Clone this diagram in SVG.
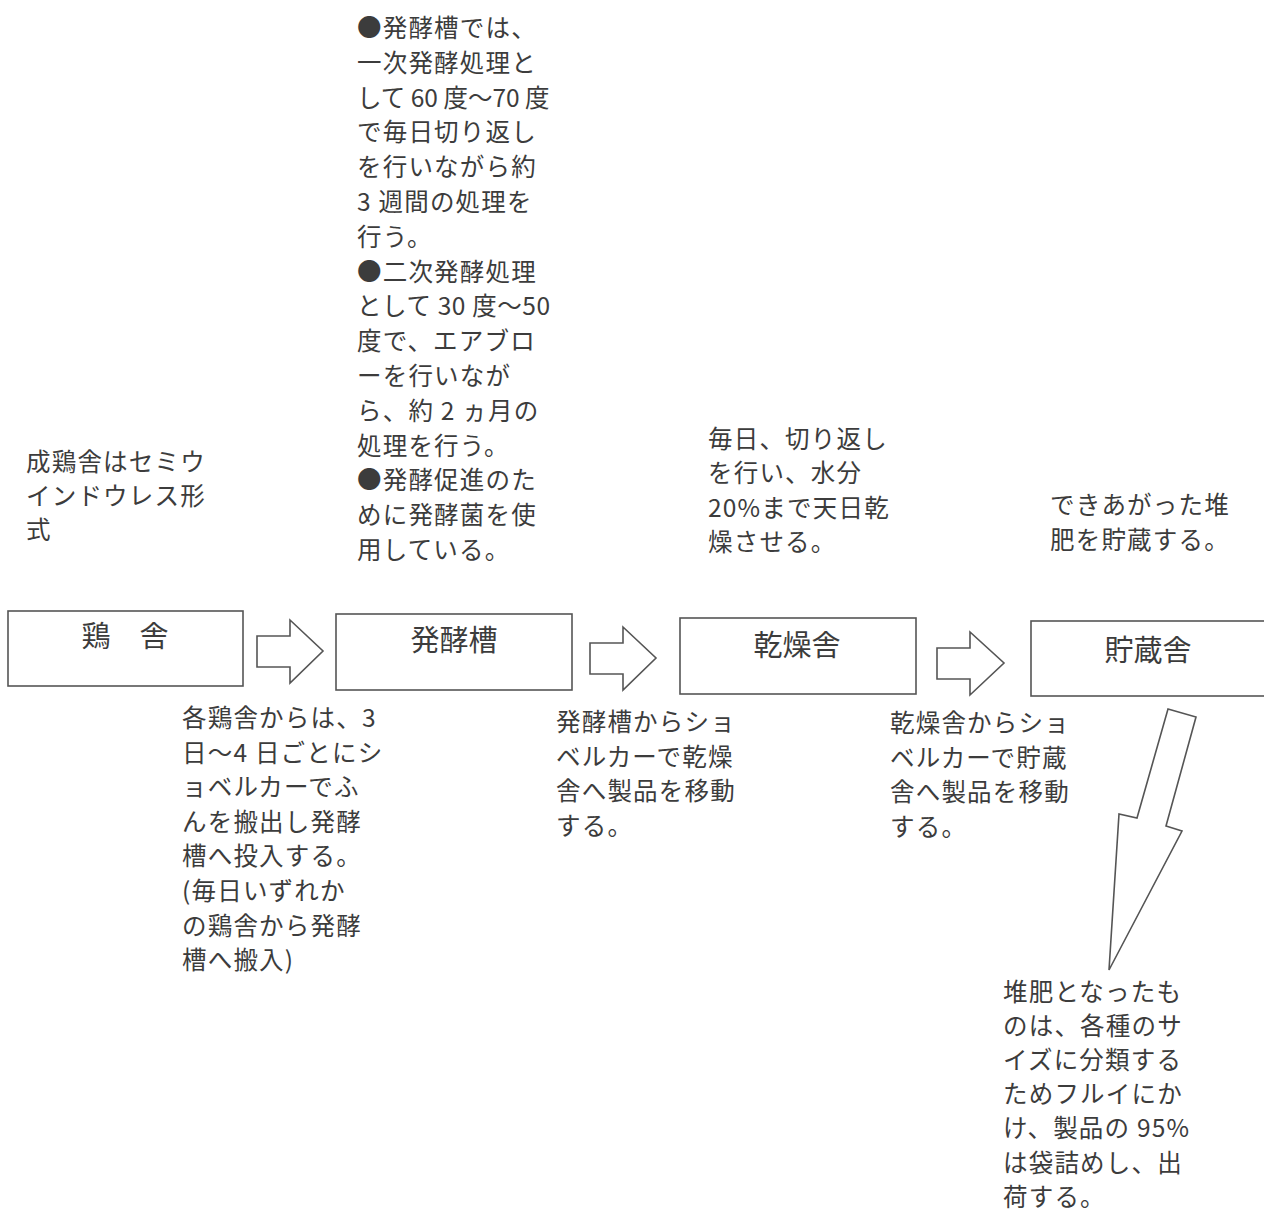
<svg xmlns="http://www.w3.org/2000/svg" width="1264" height="1213" viewBox="0 0 1264 1213">
<style>
.bg{fill:#ffffff}
.box{fill:#ffffff;stroke:#555555;stroke-width:1.6}
.arr{fill:#ffffff;stroke:#555555;stroke-width:1.6;stroke-linejoin:miter}
text{font-family:"Noto Sans CJK JP","Noto Sans CJK SC",sans-serif;fill:#3c3c3c}
.t{font-size:24.5px;letter-spacing:1.2px}
.lbl{font-size:29px;text-anchor:middle}
</style>
<rect class="bg" x="0" y="0" width="1264" height="1213"/>

<g id="node-keisha">
<rect class="box" x="8" y="611" width="235" height="75"/>
<text class="lbl" x="125" y="647">鶏　舎</text>
</g>
<g id="node-hakkoso">
<rect class="box" x="336" y="614" width="236" height="76"/>
<text class="lbl" x="454" y="651">発酵槽</text>
</g>
<g id="node-kansosha">
<rect class="box" x="680" y="618" width="236" height="76"/>
<text class="lbl" x="797" y="656">乾燥舎</text>
</g>
<g id="node-chozosha">
<rect class="box" x="1031" y="621" width="240" height="75"/>
<text class="lbl" x="1148" y="661">貯蔵舎</text>
</g>

<g id="connectors">
<polygon class="arr" points="257,636 290,636 290,620 323,651 290,683 290,667 257,667"/>
<polygon class="arr" points="590,643 623,643 623,627 656,658 623,690 623,674 590,674"/>
<polygon class="arr" points="937,648 970,648 970,632 1004,663 970,695 970,679 937,679"/>
<polygon class="arr" points="1168,709 1196,717 1166,826 1182,831 1109,970 1119,814 1137,818"/>
</g>

<g id="note-keisha">
<text class="t" x="26" y="471"><tspan x="26">成鶏舎はセミウ</tspan><tspan x="26" dy="34">インドウレス形</tspan><tspan x="26" dy="34">式</tspan></text>
</g>
<g id="note-hakko">
<text class="t" x="357" y="37"><tspan x="357">●発酵槽では、</tspan><tspan x="357" dy="34.8">一次発酵処理と</tspan><tspan x="357" dy="34.8" letter-spacing="0">して 60 度〜70 度</tspan><tspan x="357" dy="34.8">で毎日切り返し</tspan><tspan x="357" dy="34.8">を行いながら約</tspan><tspan x="357" dy="34.8">3 週間の処理を</tspan><tspan x="357" dy="34.8">行う。</tspan><tspan x="357" dy="34.8">●二次発酵処理</tspan><tspan x="357" dy="34.8" letter-spacing="0.6">として 30 度〜50</tspan><tspan x="357" dy="34.8">度で、エアブロ</tspan><tspan x="357" dy="34.8">ーを行いなが</tspan><tspan x="357" dy="34.8">ら、約 2 ヵ月の</tspan><tspan x="357" dy="34.8">処理を行う。</tspan><tspan x="357" dy="34.8">●発酵促進のた</tspan><tspan x="357" dy="34.8">めに発酵菌を使</tspan><tspan x="357" dy="34.8">用している。</tspan></text>
</g>
<g id="note-kanso">
<text class="t" x="708" y="448"><tspan x="708">毎日、切り返し</tspan><tspan x="708" dy="34.3">を行い、水分</tspan><tspan x="708" dy="34.3">20%まで天日乾</tspan><tspan x="708" dy="34.3">燥させる。</tspan></text>
</g>
<g id="note-chozo">
<text class="t" x="1050" y="514"><tspan x="1050">できあがった堆</tspan><tspan x="1050" dy="35">肥を貯蔵する。</tspan></text>
</g>
<g id="note-move1">
<text class="t" x="182" y="727"><tspan x="182">各鶏舎からは、3</tspan><tspan x="182" dy="34.6">日〜4 日ごとにシ</tspan><tspan x="182" dy="34.6">ョベルカーでふ</tspan><tspan x="182" dy="34.6">んを搬出し発酵</tspan><tspan x="182" dy="34.6">槽へ投入する。</tspan><tspan x="182" dy="34.6">(毎日いずれか</tspan><tspan x="182" dy="34.6">の鶏舎から発酵</tspan><tspan x="182" dy="34.6">槽へ搬入)</tspan></text>
</g>
<g id="note-move2">
<text class="t" x="556" y="731"><tspan x="556">発酵槽からショ</tspan><tspan x="556" dy="34.7">ベルカーで乾燥</tspan><tspan x="556" dy="34.7">舎へ製品を移動</tspan><tspan x="556" dy="34.7">する。</tspan></text>
</g>
<g id="note-move3">
<text class="t" x="890" y="732"><tspan x="890">乾燥舎からショ</tspan><tspan x="890" dy="34.7">ベルカーで貯蔵</tspan><tspan x="890" dy="34.7">舎へ製品を移動</tspan><tspan x="890" dy="34.7">する。</tspan></text>
</g>
<g id="note-ship">
<text class="t" x="1003" y="1001"><tspan x="1003">堆肥となったも</tspan><tspan x="1003" dy="34.1">のは、各種のサ</tspan><tspan x="1003" dy="34.1">イズに分類する</tspan><tspan x="1003" dy="34.1">ためフルイにか</tspan><tspan x="1003" dy="34.1">け、製品の 95%</tspan><tspan x="1003" dy="34.1">は袋詰めし、出</tspan><tspan x="1003" dy="34.1">荷する。</tspan></text>
</g>
</svg>
